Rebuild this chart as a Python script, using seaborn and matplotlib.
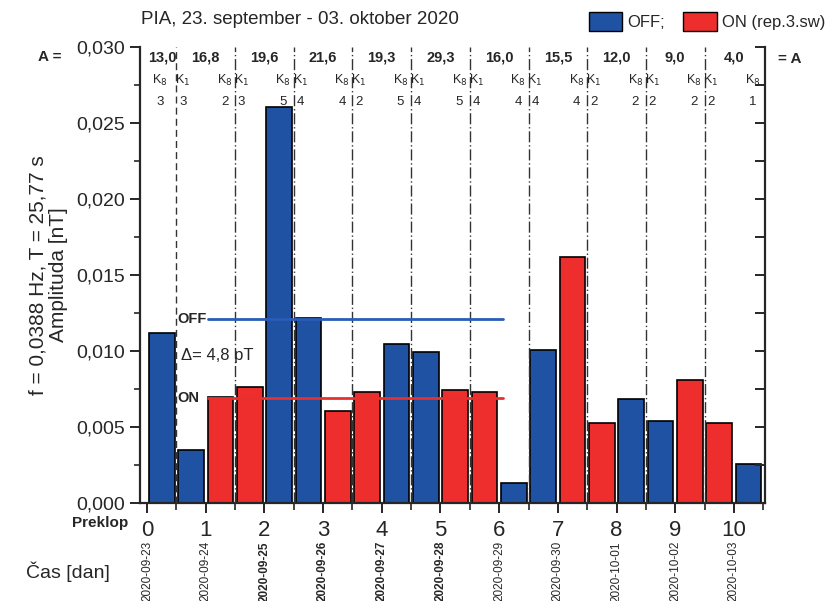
import numpy as np
import pandas as pd
import matplotlib
matplotlib.use('Agg')
import matplotlib.pyplot as plt
import matplotlib.transforms as mtransforms
from matplotlib.patches import Patch
from matplotlib.ticker import FuncFormatter, MultipleLocator
import seaborn as sns

# half-day amplitudes [nT], in time order
amplitude = [0.01116, 0.00351, 0.00697, 0.00761, 0.02607, 0.01215, 0.00605,
             0.00728, 0.01046, 0.00996, 0.00746, 0.00728, 0.00132, 0.01007,
             0.01618, 0.00528, 0.00684, 0.00542, 0.00809, 0.00526, 0.00257]
state = ['OFF', 'OFF', 'ON', 'ON', 'OFF', 'OFF', 'ON', 'ON', 'OFF', 'OFF', 'ON',
         'ON', 'OFF', 'OFF', 'ON', 'ON', 'OFF', 'OFF', 'ON', 'ON', 'OFF']

days = list(range(11))
dates = ['2020-09-23', '2020-09-24', '2020-09-25', '2020-09-26', '2020-09-27',
         '2020-09-28', '2020-09-29', '2020-09-30', '2020-10-01', '2020-10-02',
         '2020-10-03']
bold_dates = ['2020-09-25', '2020-09-26', '2020-09-27', '2020-09-28']
a_index = ['13,0', '16,8', '19,6', '21,6', '19,3', '29,3', '16,0', '15,5',
           '12,0', '9,0', '4,0']
k1 = [None, 3, 3, 4, 2, 4, 4, 4, 2, 2, 2]
k8 = [3, 2, 5, 4, 5, 5, 4, 4, 2, 2, 1]

mean_off = 0.0121
mean_on = 0.0069

colors = {'OFF': '#1f52a3', 'ON': '#ee2d2d'}

df = pd.DataFrame({'t': np.arange(len(amplitude)) * 0.5 + 0.25,
                   'amp': amplitude, 'state': state})

sns.set_style('ticks')
plt.rcParams['font.family'] = ['Liberation Sans', 'DejaVu Sans']

fig = plt.figure(figsize=(8.4, 6.01), dpi=100)
ax = fig.add_axes([0.1667, 0.163, 0.744, 0.759])

sns.barplot(data=df, x='t', y='amp', hue='state', palette=colors, saturation=1,
            native_scale=True, dodge=False, width=0.88, edgecolor='black',
            linewidth=1.2, legend=False, ax=ax, zorder=2)

ax.set_xlim(-0.12, 10.53)
ax.set_ylim(0, 0.030)

# day separators
for d in days[1:]:
    ls = (0, (5, 3)) if d == 1 else (0, (8, 2, 1, 2))
    ax.axvline(d - 0.5, color='#333333', lw=1.0, ls=ls, zorder=3)

# mean levels
ax.plot([1.03, 6.06], [mean_off, mean_off], color='#2a5cb8', lw=2, zorder=4)
ax.plot([1.03, 6.06], [mean_on, mean_on], color='#e8302e', lw=2, zorder=4)
ax.text(0.52, mean_off, 'OFF', fontsize=10.5, fontweight='bold', va='center', ha='left', zorder=5)
ax.text(0.52, mean_on, 'ON', fontsize=10.5, fontweight='bold', va='center', ha='left', zorder=5)
ax.text(0.58, 0.0097, '\u0394= 4,8 pT', fontsize=12, va='center', ha='left', zorder=5)

# header: A index and K values
for d in days:
    xa = 0.26 if d == 0 else d
    ax.text(xa, 0.0293, a_index[d], fontsize=10.5, fontweight='bold', ha='center', va='center')
    if k1[d] is not None:
        ax.text(d - 0.39, 0.0278, r'K$_1$', fontsize=9, ha='center', va='center')
        ax.text(d - 0.39, 0.0264, str(k1[d]), fontsize=9.5, ha='center', va='center')
    xk8 = 0.22 if d == 0 else d + 0.32
    ax.text(xk8, 0.0278, r'K$_8$', fontsize=9, ha='center', va='center')
    ax.text(xk8, 0.0264, str(k8[d]), fontsize=9.5, ha='center', va='center')

# axes styling
ax.spines['top'].set_visible(False)
ax.spines['right'].set_visible(False)
for s in ['left', 'bottom']:
    ax.spines[s].set_linewidth(1.6)
ax.set_xticks(days)
ax.set_xticklabels([str(d) for d in days], fontsize=16)
ax.xaxis.set_minor_locator(MultipleLocator(0.5))
ax.yaxis.set_major_locator(MultipleLocator(0.005))
ax.yaxis.set_minor_locator(MultipleLocator(0.0025))
ax.yaxis.set_major_formatter(FuncFormatter(lambda v, p: f'{v:.3f}'.replace('.', ',')))
ax.tick_params(axis='y', which='major', length=7, width=1.4, labelsize=14, direction='out')
ax.tick_params(axis='y', which='minor', length=4, width=1.2, direction='out')
ax.tick_params(axis='x', which='major', length=7, width=1.4, direction='out', pad=5)
ax.tick_params(axis='x', which='minor', length=5, width=1.2, direction='out')
ax.set_xlabel('')
ax.set_ylabel('f = 0,0388 Hz, T = 25,77 s\nAmplituda [nT]', fontsize=15, labelpad=6,
              linespacing=1.1)

ax2 = ax.twinx()
ax2.set_ylim(ax.get_ylim())
ax2.spines['top'].set_visible(False)
ax2.spines['left'].set_visible(False)
ax2.spines['bottom'].set_visible(False)
ax2.spines['right'].set_linewidth(1.6)
ax2.yaxis.set_major_locator(MultipleLocator(0.005))
ax2.yaxis.set_minor_locator(MultipleLocator(0.0025))
ax2.tick_params(axis='y', which='both', direction='in', length=7, width=1.4,
                labelright=False)

# dates under the ticks
trans = mtransforms.blended_transform_factory(ax.transData, fig.transFigure)
for d, lab in zip(days, dates):
    ax.text(d, 1 - 541 / 601, lab, transform=trans, rotation=90, ha='center', va='top',
            fontsize=8.5, fontweight='bold' if lab in bold_dates else 'normal')

fig.text(100 / 840, 1 - 523 / 601, 'Preklop', fontsize=11, fontweight='bold', ha='center', va='center')
fig.text(68 / 840, 1 - 572 / 601, 'Čas [dan]', fontsize=14, ha='center', va='center')
fig.text(50 / 840, 1 - 57 / 601, 'A =', fontsize=11, fontweight='bold', ha='center', va='center')
fig.text(790 / 840, 1 - 59 / 601, '= A', fontsize=11, fontweight='bold', ha='center', va='center')

fig.text(300 / 840, 1 - 20 / 601, 'PIA, 23. september - 03. oktober 2020', fontsize=13.5,
         ha='center', va='center')

handles = [Patch(facecolor=colors['OFF'], edgecolor='black', label='OFF;'),
           Patch(facecolor=colors['ON'], edgecolor='black', label='ON (rep.3.sw)')]
fig.legend(handles=handles, loc='upper right', bbox_to_anchor=(1.0, 1.005), ncol=2,
           frameon=False, fontsize=12, handlelength=2.0, handleheight=1.4,
           columnspacing=1.1, handletextpad=0.3)

fig.savefig('out.png', dpi=100)
